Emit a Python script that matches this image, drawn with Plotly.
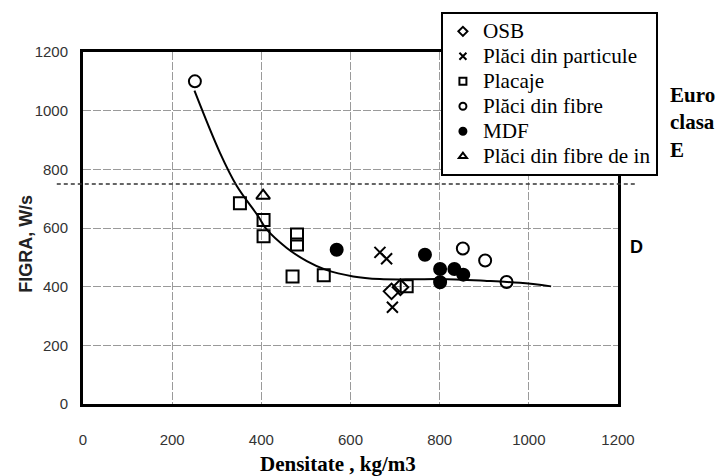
import plotly.graph_objects as go

# ---- data ----
osb_x = [692, 712]
osb_y = [384, 398]
particule_x = [666, 681, 694]
particule_y = [517, 495, 330]
placaje_x = [352, 405, 405, 480, 480, 470, 540, 726]
placaje_y = [684, 627, 572, 578, 544, 435, 439, 401]
fibre_x = [251, 852, 902, 950]
fibre_y = [1100, 530, 489, 416]
mdf_x = [569, 767, 801, 801, 833, 853]
mdf_y = [526, 509, 460, 415, 460, 441]
in_x = [404]
in_y = [710]

curve_x = [250, 307, 345, 393, 412, 457, 502, 544, 606, 666, 740, 801, 900, 980, 1050]
curve_y = [1068, 857, 743, 640, 595, 532, 487, 458, 435, 426, 425, 426, 420, 413, 401]

threshold = 750
x_ticks = [0, 200, 400, 600, 800, 1000, 1200]
y_ticks = [0, 200, 400, 600, 800, 1000, 1200]

series = [
    ("OSB", osb_x, osb_y, "diamond-open"),
    ("Plăci din particule", particule_x, particule_y, "x-thin-open"),
    ("Placaje", placaje_x, placaje_y, "square-open"),
    ("Plăci din fibre", fibre_x, fibre_y, "circle-open"),
    ("MDF", mdf_x, mdf_y, "circle"),
    ("Plăci din fibre de in", in_x, in_y, "triangle-up-open"),
]

fig = go.Figure()

fig.add_trace(go.Scatter(x=curve_x, y=curve_y, mode="lines",
                         line=dict(color="black", width=2, shape="spline", smoothing=1.0),
                         showlegend=False, hoverinfo="skip"))

for name, xs, ys, sym in series:
    fig.add_trace(go.Scatter(
        x=xs, y=ys, mode="markers", name=name, showlegend=False,
        marker=dict(symbol=sym, size=12 if sym != "x-thin-open" else 11,
                    color="black", line=dict(color="black", width=2)),
    ))

for name, xs, ys, sym in series:
    fig.add_trace(go.Scatter(
        x=[None], y=[None], mode="markers",
        name='<span style="font-size:21.2px">' + name + "</span>", showlegend=True,
        marker=dict(symbol=sym, size=7, color="black", line=dict(color="black", width=2)),
    ))

axis_font = dict(family="Liberation Sans, Arial", size=15, color="#333")

fig.update_layout(
    width=718, height=476,
    margin=dict(l=83, r=100, t=52, b=72),
    paper_bgcolor="white", plot_bgcolor="white",
    showlegend=True,
    legend=dict(
        x=0.669, y=1.114, xanchor="left", yanchor="top",
        bordercolor="black", borderwidth=2, bgcolor="white",
        font=dict(family="Liberation Serif, Times New Roman", size=16.9, color="black"),
        itemsizing="trace", tracegroupgap=0,
    ),
    xaxis=dict(range=[0, 1200], tickvals=x_ticks, showgrid=True,
               gridcolor="#9a9a9a", gridwidth=1, griddash="8px,2px",
               showline=True, linecolor="black", linewidth=3, mirror=True,
               zeroline=False, tickfont=axis_font, ticks="", ticklabelstandoff=20),
    yaxis=dict(range=[0, 1200], tickvals=y_ticks, showgrid=True,
               gridcolor="#9a9a9a", gridwidth=1, griddash="8px,2px",
               showline=True, linecolor="black", linewidth=3, mirror=True,
               zeroline=False, tickfont=axis_font, ticks="", ticklabelstandoff=9),
)

# threshold dashed line (Euroclass E / D boundary)
fig.add_shape(type="line", xref="paper", yref="y", x0=-0.049, x1=1.036,
              y0=threshold, y1=threshold,
              line=dict(color="#333", width=1.5, dash="4px,3px"), layer="above")

fig.add_annotation(text="<b>FIGRA, W/s</b>", xref="paper", yref="paper",
                   x=-0.1065, y=0.455, xanchor="center", yanchor="middle",
                   textangle=-90, showarrow=False,
                   font=dict(family="Liberation Sans, Arial", size=18, color="#222"))
fig.add_annotation(text="<b>Densitate , kg/m3</b>", xref="paper", yref="paper",
                   x=0.477, y=-0.17, xanchor="center", yanchor="middle", showarrow=False,
                   font=dict(family="Liberation Serif, Times New Roman", size=21, color="black"))
fig.add_annotation(text="<b>D</b>", xref="paper", yref="paper",
                   x=1.0355, y=0.446, xanchor="center", yanchor="middle", showarrow=False,
                   font=dict(family="Liberation Sans, Arial", size=18, color="black"))
fig.add_annotation(text="<b>Euro<br>clasa<br>E</b>", xref="paper", yref="paper",
                   x=1.093, y=0.80, xanchor="left", yanchor="middle", align="left",
                   showarrow=False,
                   font=dict(family="Liberation Serif, Times New Roman", size=21, color="black"))

fig.write_html("out.html")
